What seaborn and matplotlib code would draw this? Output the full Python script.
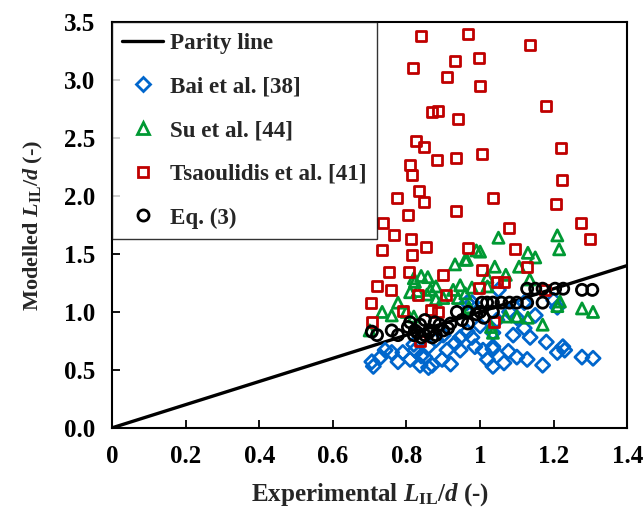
import matplotlib
matplotlib.use("Agg")
import matplotlib.pyplot as plt
from matplotlib.lines import Line2D
import seaborn as sns
import pandas as pd
import numpy as np

# ---- data ----
bai_x = [1.035,1.077,1.065,1.10,1.128,1.17,1.18,1.21,1.225,1.23,1.277,1.307,1.136,1.12,1.15,1.035,1.05,1.21,
         0.706,0.71,0.742,0.73,0.76,0.79,0.777,0.81,0.823,0.837,0.85,0.87,0.897,0.91,0.932,0.946,0.946,0.965,
         0.978,0.986,1.008,1.02,1.035,1.035,1.046,0.978,0.965,0.82,0.86,0.88,0.90,0.84,0.86,0.92,1.0,1.09,1.1,1.2,1.08,1.12]
bai_y = [0.68,0.66,0.56,0.61,0.59,0.54,0.74,0.65,0.70,0.67,0.61,0.60,0.78,0.86,0.97,0.53,1.19,1.04,
         0.57,0.53,0.67,0.61,0.65,0.65,0.57,0.59,0.67,0.54,0.61,0.54,0.59,0.67,0.73,0.67,0.78,0.83,
         0.78,0.70,0.67,0.59,0.70,0.82,0.93,1.08,1.08,0.72,0.70,0.76,0.80,0.62,0.52,0.55,0.88,0.80,0.95,1.10,1.00,1.08]

su_x = [1.05,1.21,1.215,1.13,1.15,1.04,1.106,1.07,1.02,1.135,1.277,1.307,1.217,1.21,1.17,1.10,1.13,1.07,1.035,1.0,
        0.932,0.96,0.823,0.858,0.84,0.88,0.777,0.734,0.927,0.946,0.978,1.02,0.81,0.856,0.9,0.97,1.03,0.70,0.99,0.964,
        0.82,0.83,0.865,0.88,0.96,0.94,0.97,0.76,0.80,0.82]
su_y = [1.64,1.66,1.54,1.51,1.47,1.39,1.39,1.32,1.30,1.28,1.03,1.00,1.09,1.05,0.89,0.96,0.95,0.96,0.82,1.52,
        1.41,1.45,1.26,1.30,1.31,1.22,1.08,1.00,1.19,1.23,1.21,1.22,1.17,1.15,1.12,1.03,0.87,0.84,1.53,1.45,
        1.29,1.18,1.19,1.11,1.16,1.12,1.04,0.97,1.00,0.96]

tsa_x = [0.967,0.84,1.136,0.818,0.997,0.932,0.91,1.0,0.87,0.885,0.94,1.18,0.826,0.848,0.81,0.815,0.883,0.935,1.005,1.22,
         1.224,0.775,0.834,0.848,0.935,1.035,1.207,0.736,0.804,0.766,0.813,0.734,0.815,0.853,0.967,1.274,1.30,1.079,1.095,
         0.753,0.807,0.72,0.758,0.90,0.704,0.832,0.908,0.997,0.79,0.867,0.886,0.706,0.837,1.046,1.128,1.065,1.177,1.038,1.005]
tsa_y = [3.40,3.38,3.30,3.10,3.19,3.16,3.03,2.95,2.72,2.73,2.66,2.78,2.47,2.42,2.27,2.18,2.31,2.33,2.36,2.41,
         2.14,1.98,2.04,1.95,1.87,1.98,1.93,1.77,1.84,1.66,1.63,1.53,1.49,1.56,1.55,1.77,1.63,1.72,1.54,
         1.34,1.34,1.22,1.19,1.32,1.08,1.15,1.15,1.21,1.01,1.02,1.00,0.91,0.75,1.26,1.39,1.26,1.19,0.91,1.36]

eq_x = [0.706,0.72,0.76,0.777,0.804,0.81,0.823,0.837,0.85,0.864,0.877,0.89,0.913,0.937,0.951,0.967,0.967,1.005,1.019,
        1.035,1.035,1.058,1.08,1.10,1.128,1.17,1.128,1.15,1.17,1.204,1.226,1.277,1.305,0.82,0.84,0.86,0.88,0.90,0.92,
        0.83,0.85,0.87,0.99,1.0,1.01]
eq_y = [0.83,0.80,0.84,0.80,0.87,0.91,0.84,0.89,0.93,0.84,0.91,0.89,0.86,1.00,0.93,0.90,1.00,1.08,1.08,
        1.08,1.00,1.08,1.08,1.08,1.08,1.08,1.20,1.20,1.20,1.20,1.20,1.19,1.19,0.80,0.78,0.82,0.80,0.84,0.90,
        0.82,0.80,0.78,0.98,1.00,0.95]

parity = [0.0, 1.4]

series_names = ["Bai et al. [38]", "Su et al. [44]", "Tsaoulidis et al. [41]", "Eq. (3)"]
colors = ["#0066CC", "#009933", "#C00000", "#000000"]
markers = ["D", "^", "s", "o"]
sizes = [52, 64, 52, 64]
xs = [bai_x, su_x, tsa_x, eq_x]
ys = [bai_y, su_y, tsa_y, eq_y]

# ---- style ----
sns.set_style("white")
plt.rcParams["font.family"] = ["Liberation Serif", "DejaVu Serif"]
plt.rcParams["font.weight"] = "bold"
plt.rcParams["mathtext.fontset"] = "custom"
plt.rcParams["mathtext.rm"] = "Liberation Serif:bold"
plt.rcParams["mathtext.it"] = "Liberation Serif:italic:bold"
plt.rcParams["mathtext.bf"] = "Liberation Serif:bold"

fig = plt.figure(figsize=(6.44, 5.13), dpi=100)
ax = fig.add_axes([0.174, 0.166, 0.800, 0.791])

sns.lineplot(x=parity, y=parity, ax=ax, color="black", linewidth=2.4, zorder=1)

for name, c, m, s, x, y in zip(series_names, colors, markers, sizes, xs, ys):
    df = pd.DataFrame({"x": x, "y": y})
    sns.scatterplot(data=df, x="x", y="y", ax=ax, marker=m, s=s,
                    facecolor="none", edgecolor=c, linewidth=2.0, zorder=3)

ax.set_xlim(0, 1.4)
ax.set_ylim(0, 3.5)
ax.set_xticks([0, 0.2, 0.4, 0.6, 0.8, 1.0, 1.2, 1.4])
ax.set_xticklabels(["0", "0.2", "0.4", "0.6", "0.8", "1", "1.2", "1.4"])
ax.set_yticks(np.arange(0, 3.51, 0.5))
ax.set_yticklabels([f"{v:.1f}" for v in np.arange(0, 3.51, 0.5)])
ax.tick_params(direction="in", length=6, width=1.3, labelsize=18, pad=12,
               bottom=True, left=True, top=False, right=False, colors="black")
for lab in ax.get_xticklabels() + ax.get_yticklabels():
    lab.set_fontweight("bold")
for sp in ax.spines.values():
    sp.set_color("black")
    sp.set_linewidth(1.5)

ax.set_xlabel(r"Experimental $L_{\mathrm{IL}}/d$ (-)", fontsize=18, fontweight="bold", labelpad=10)
ax.set_ylabel(r"Modelled $L_{\mathrm{IL}}/d$ (-)", fontsize=16, fontweight="bold", labelpad=14)

handles = [Line2D([0], [0], color="black", lw=2.4)]
for c, m in zip(colors, markers):
    handles.append(Line2D([0], [0], linestyle="none", marker=m, markersize=7 if m in "Ds" else 8,
                          markerfacecolor="none", markeredgecolor=c, markeredgewidth=2.0))
labels = ["Parity line"] + series_names
leg = ax.legend(handles, labels, loc="upper left", bbox_to_anchor=(0, 1), borderaxespad=0,
                frameon=True, fancybox=False, edgecolor="black", handlelength=1.75,
                labelspacing=0.98, borderpad=0.45, handletextpad=0.3,
                prop={"family": "Liberation Serif", "weight": "bold", "size": 16.6})
leg.get_frame().set_linewidth(1.0)
leg.set_zorder(5)

fig.savefig("out.png", dpi=100)
